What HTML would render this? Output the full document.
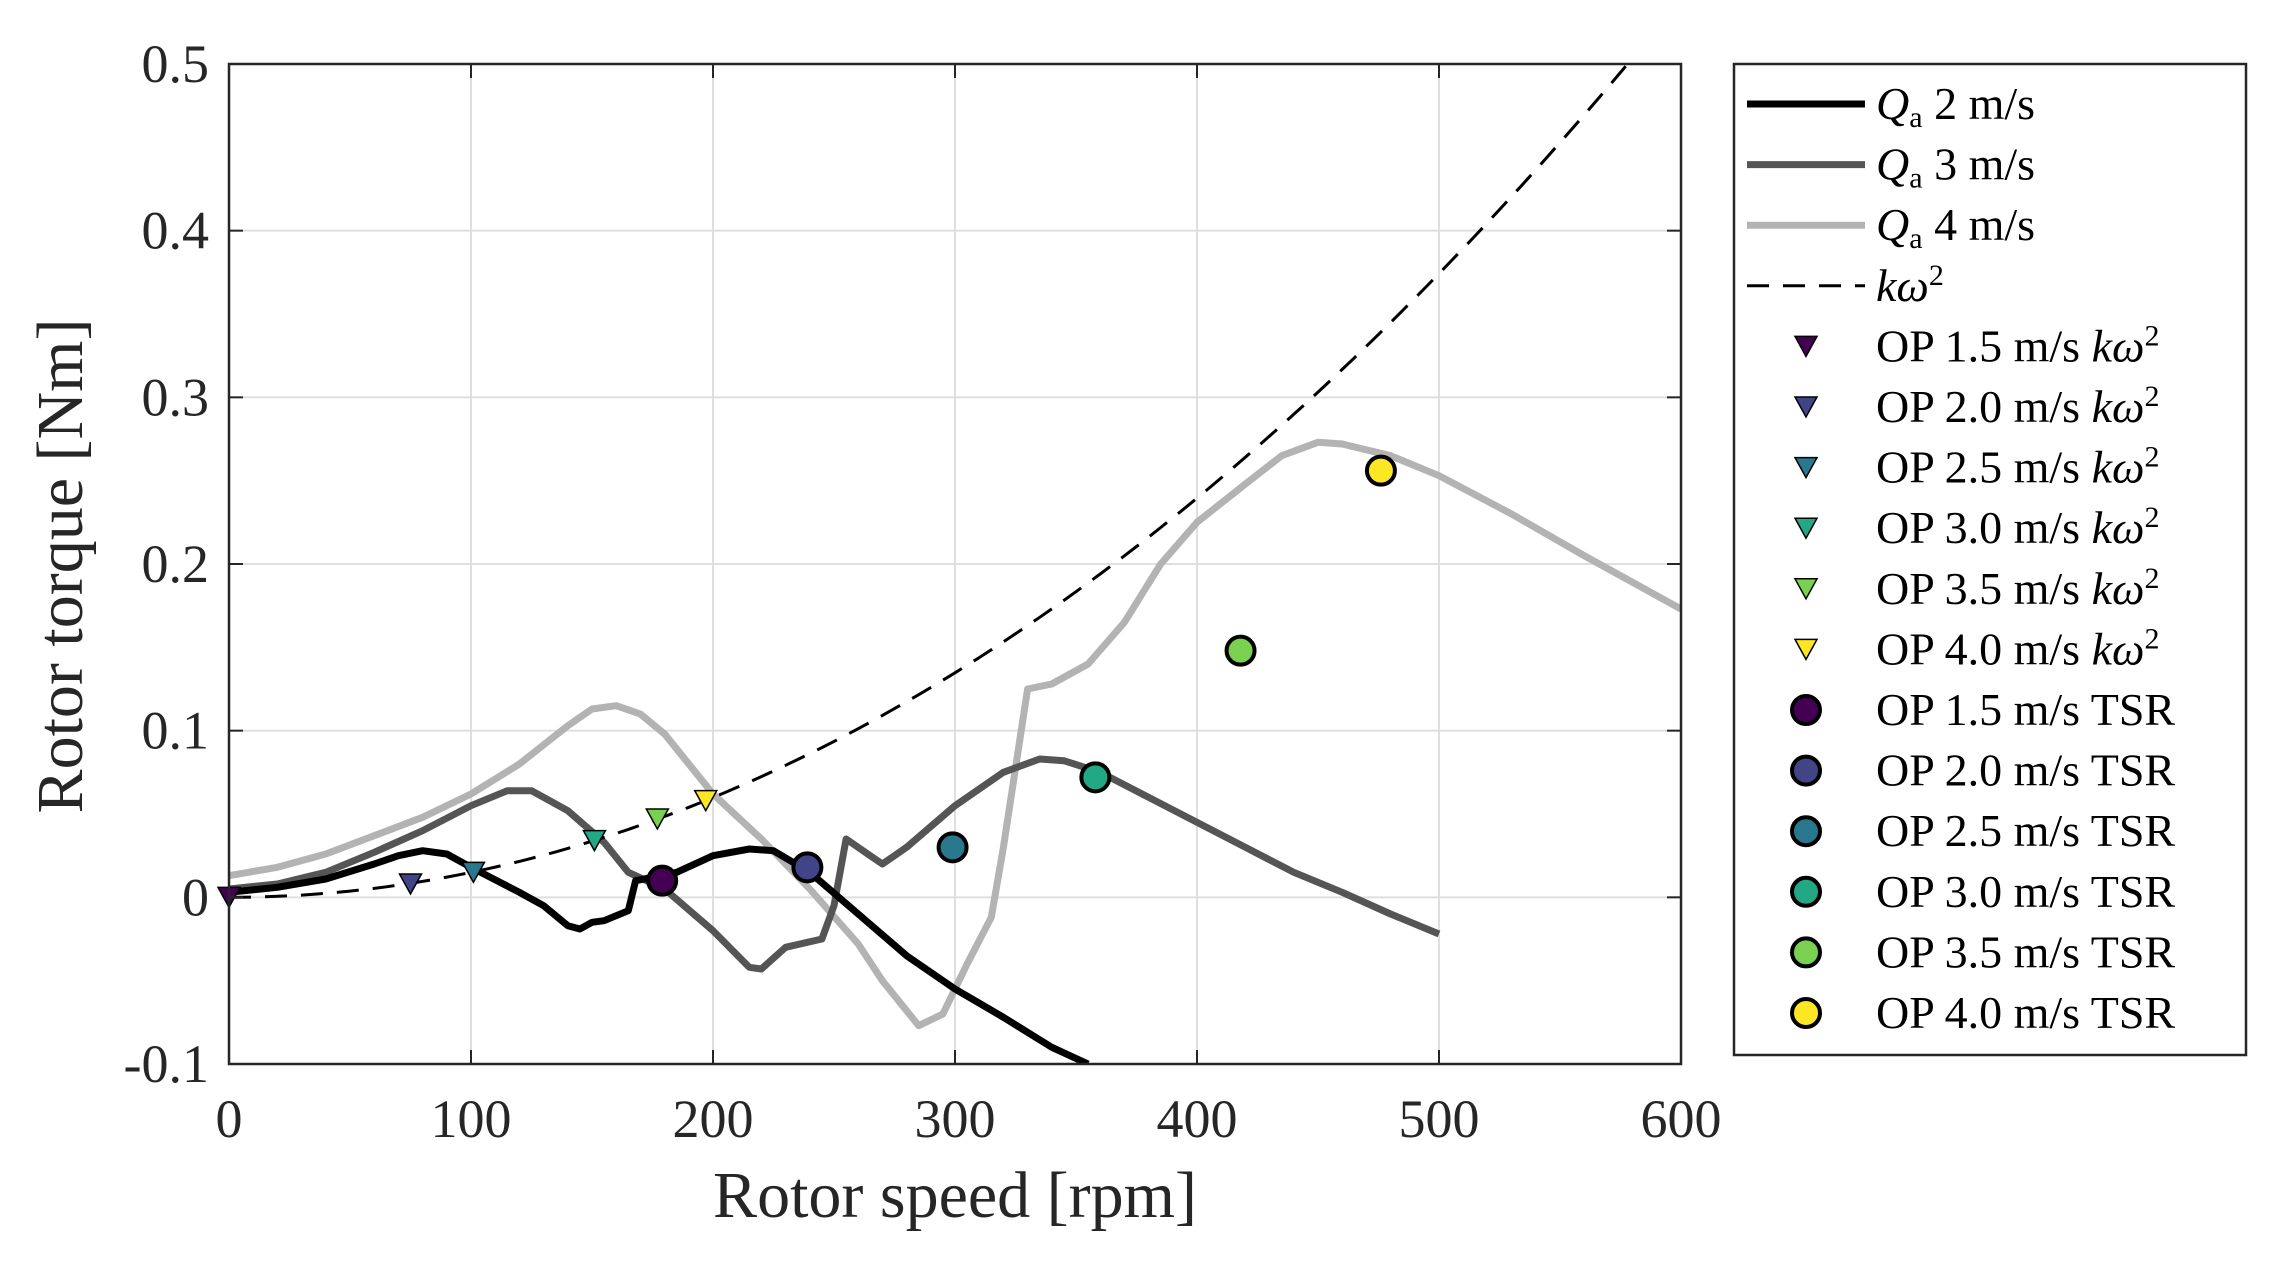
<!DOCTYPE html>
<html><head><meta charset="utf-8"><style>
html,body{margin:0;padding:0;background:#fff;}
svg{display:block;font-family:"Liberation Serif",serif;}
</style></head><body>
<svg id="chart" width="2277" height="1262" viewBox="0 0 2277 1262" xmlns="http://www.w3.org/2000/svg">
<rect width="2277" height="1262" fill="#fff"/>
<g id="grid"></g>
<g id="series"></g>
<g id="axes"></g>
<g id="legend"></g>
</svg>
<script>
const xTicks=[0,100,200,300,400,500,600];
const yTicks=[-0.1,0,0.1,0.2,0.3,0.4,0.5];
const yTickLabels=["-0.1","0","0.1","0.2","0.3","0.4","0.5"];
const qa2X=[0,20,40,60,70,80,90,100,120,130,140,145,150,155,165,168,175,185,200,215,225,240,260,280,300,320,340,355];
const qa2Y=[0.003,0.006,0.011,0.02,0.025,0.028,0.026,0.018,0.003,-0.005,-0.017,-0.019,-0.015,-0.014,-0.008,0.01,0.012,0.015,0.025,0.029,0.028,0.015,-0.01,-0.035,-0.055,-0.072,-0.09,-0.1];
const qa3X=[0,20,40,60,80,100,115,125,140,155,165,180,200,215,220,230,245,250,255,265,270,280,300,320,335,345,360,380,400,420,440,460,480,500];
const qa3Y=[0.005,0.008,0.015,0.027,0.04,0.055,0.064,0.064,0.052,0.033,0.015,0.005,-0.02,-0.042,-0.043,-0.03,-0.025,-0.005,0.035,0.025,0.02,0.03,0.055,0.075,0.083,0.082,0.075,0.06,0.045,0.03,0.015,0.003,-0.01,-0.022];
const qa4X=[0,20,40,60,80,100,120,140,150,160,170,180,190,200,220,240,260,270,285,295,305,315,320,330,340,355,370,385,400,420,435,450,460,480,500,530,560,600];
const qa4Y=[0.013,0.018,0.026,0.037,0.048,0.062,0.08,0.103,0.113,0.115,0.11,0.098,0.08,0.062,0.035,0.005,-0.028,-0.05,-0.077,-0.07,-0.04,-0.012,0.03,0.125,0.128,0.14,0.165,0.2,0.225,0.248,0.265,0.273,0.272,0.265,0.253,0.23,0.205,0.173];
const kCoef=1.497e-6;
const opLabels=["1.5","2.0","2.5","3.0","3.5","4.0"];
const opColors=["#440154","#414487","#2a788e","#22a884","#7ad151","#fde725"];
const triX=[0,75,101,151,177,197];
const triY=[0,0.008,0.015,0.034,0.047,0.058];
const circX=[179,239,299,358,418,476];
const circY=[0.010,0.018,0.030,0.072,0.148,0.256];

const L=229,R=1681,T=64,B=1064;
const xS=v=>L+(v-0)/(600-0)*(R-L);
const yS=v=>B-(v+0.1)/0.6*(B-T);
const NS="http://www.w3.org/2000/svg";
function mk(tag,attrs,parent){const e=document.createElementNS(NS,tag);for(const k in attrs)e.setAttribute(k,attrs[k]);parent.appendChild(e);return e;}
const grid=document.getElementById('grid'),ser=document.getElementById('series'),ax=document.getElementById('axes'),leg=document.getElementById('legend');

xTicks.forEach(t=>{
  const g=mk('line',{x1:xS(t),x2:xS(t),y1:T,y2:B,stroke:'#dfdfdf','stroke-width':2},grid);
  
  
  const tl=mk('text',{x:xS(t),y:1137,'font-size':54,'text-anchor':'middle',fill:'#262626'},ax);
  tl.textContent=t;
  
  
  mk('line',{x1:xS(t),x2:xS(t),y1:B,y2:B-14,stroke:'#262626','stroke-width':2},ax);
  mk('line',{x1:xS(t),x2:xS(t),y1:T,y2:T+14,stroke:'#262626','stroke-width':2},ax);
});
yTicks.forEach((t,i)=>{
  const g=mk('line',{x1:L,x2:R,y1:yS(t),y2:yS(t),stroke:'#dfdfdf','stroke-width':2},grid);
  
  
  const tl=mk('text',{x:209,y:yS(t)+18,'font-size':54,'text-anchor':'end',fill:'#262626'},ax);
  tl.textContent=yTickLabels[i];
  
  
  mk('line',{x1:L,x2:L+14,y1:yS(t),y2:yS(t),stroke:'#262626','stroke-width':2},ax);
  mk('line',{x1:R,x2:R-14,y1:yS(t),y2:yS(t),stroke:'#262626','stroke-width':2},ax);
});
const frame=mk('rect',{x:L,y:T,width:R-L,height:B-T,fill:'none',stroke:'#262626','stroke-width':2.5},ax);


const xt=mk('text',{x:955,y:1217,'font-size':66,'text-anchor':'middle',fill:'#262626'},ax);
xt.textContent='Rotor speed [rpm]';


const yt=mk('text',{x:0,y:0,'font-size':66,'text-anchor':'middle',fill:'#262626',transform:'translate(82,566) rotate(-90)'},ax);
yt.textContent='Rotor torque [Nm]';



const defs=mk('defs',{},ser);
const cp=mk('clipPath',{id:'clip'},defs);
mk('rect',{x:L,y:T,width:R-L,height:B-T},cp);
function linePath(xs,ys,stroke,name){
  const d=xs.map((x,i)=>(i?'L':'M')+xS(x).toFixed(1)+','+yS(ys[i]).toFixed(1)).join('');
  const p=mk('path',{d:d,fill:'none',stroke:stroke,'stroke-width':7,'stroke-linejoin':'round','clip-path':'url(#clip)'},ser);
  
  
}
linePath(qa4X,qa4Y,'#b3b3b3','qa-4ms-line');
linePath(qa3X,qa3Y,'#555555','qa-3ms-line');
linePath(qa2X,qa2Y,'#000000','qa-2ms-line');
let kd='';
for(let w=0;w<=600;w+=5){kd+=(w?'L':'M')+xS(w).toFixed(1)+','+yS(kCoef*w*w).toFixed(1);}
const kp=mk('path',{d:kd,fill:'none',stroke:'#000','stroke-width':3,'stroke-dasharray':'22,14','clip-path':'url(#clip)'},ser);


function tri(cx,cy,col,parent){
  return mk('path',{d:`M${cx-11},${cy-10}L${cx+11},${cy-10}L${cx},${cy+10}Z`,fill:col,stroke:'#000','stroke-width':1.5},parent);
}
triX.forEach((x,i)=>{
  const t=tri(xS(x),yS(triY[i]),opColors[i],ser);
  
  
});
circX.forEach((x,i)=>{
  const c=mk('circle',{cx:xS(x),cy:yS(circY[i]),r:14,fill:opColors[i],stroke:'#000','stroke-width':4},ser);
  
  
});

const lb=mk('rect',{x:1734,y:64,width:512,height:991,fill:'#fff',stroke:'#262626','stroke-width':2.5},leg);


const rowY=i=>104+i*60.6;
const tx=1876;
function legText(i,html,name){
  const t=mk('text',{x:tx,y:rowY(i)+15,'font-size':46,fill:'#000'},leg);
  t.innerHTML=html;
  
  
}
const qCols=['#000000','#555555','#b3b3b3'],qLab=['2','3','4'];
qCols.forEach((c,i)=>{
  mk('line',{x1:1747,x2:1865,y1:rowY(i),y2:rowY(i),stroke:c,'stroke-width':7},leg);
  legText(i,`<tspan font-style="italic">Q</tspan><tspan font-size="30" dy="8">a</tspan><tspan dy="-8"> ${qLab[i]} m/s</tspan>`,'legend-entry-qa-'+qLab[i]);
});
mk('line',{x1:1747,x2:1865,y1:rowY(3),y2:rowY(3),stroke:'#000','stroke-width':3,'stroke-dasharray':'22,14'},leg);
legText(3,`<tspan font-style="italic">kω</tspan><tspan font-size="30" dy="-16">2</tspan>`,'legend-entry-k-omega');
opLabels.forEach((l,i)=>{
  tri(1806,rowY(4+i),opColors[i],leg);
  legText(4+i,`OP ${l} m/s <tspan font-style="italic">kω</tspan><tspan font-size="30" dy="-16">2</tspan>`,'legend-entry-op-kw2-'+l);
});
opLabels.forEach((l,i)=>{
  mk('circle',{cx:1806,cy:rowY(10+i),r:14,fill:opColors[i],stroke:'#000','stroke-width':4},leg);
  legText(10+i,`OP ${l} m/s TSR`,'legend-entry-op-tsr-'+l);
});
</script>
</body></html>
